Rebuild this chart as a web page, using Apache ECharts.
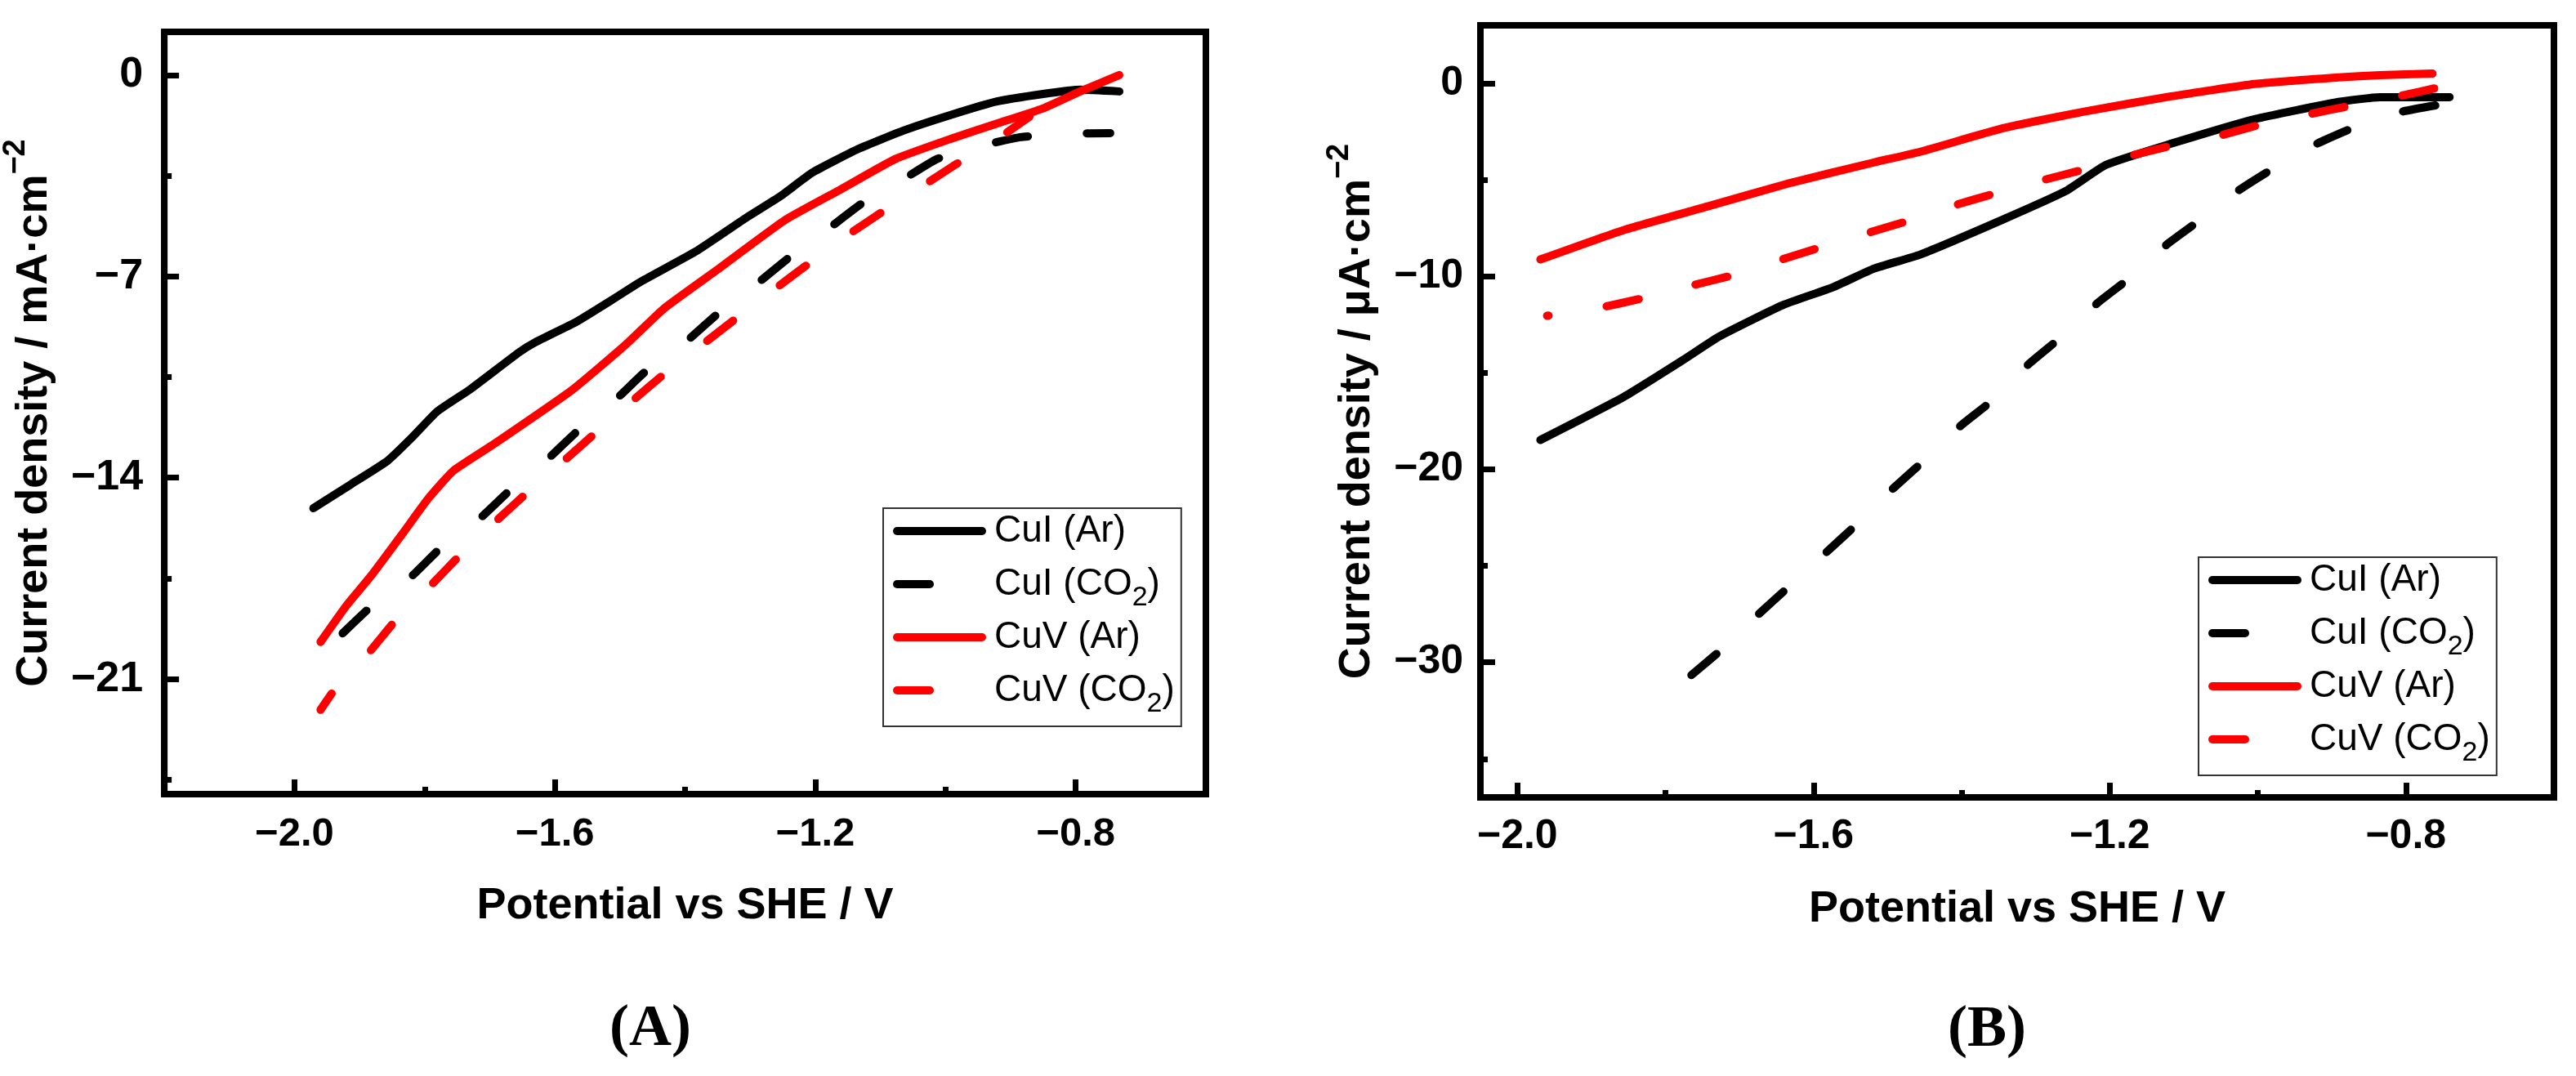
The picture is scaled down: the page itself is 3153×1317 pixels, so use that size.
<!DOCTYPE html>
<html>
<head>
<meta charset="utf-8">
<script src="https://cdn.jsdelivr.net/npm/echarts@6/dist/echarts.min.js"></script>
<style>
  html, body { margin: 0; padding: 0; background: #fff; }
  #chart { width: 3153px; height: 1317px; }
</style>
</head>
<body>
<div id="chart"></div>
<script>
// panel A : current density in mA/cm2
const potA_CuI_Ar = [-1.971, -1.914, -1.857, -1.819, -1.781, -1.731, -1.655, -1.630, -1.567, -1.516, -1.467, -1.382, -1.304, -1.254, -1.205, -1.134, -1.063, -0.992, -0.921, -0.850, -0.793, -0.733];
const curA_CuI_Ar = [-15.06, -14.24, -13.41, -12.59, -11.70, -10.94, -9.64, -9.29, -8.58, -7.87, -7.17, -6.11, -4.93, -4.22, -3.40, -2.57, -1.92, -1.39, -0.92, -0.66, -0.51, -0.57];

const potA_CuI_CO2 = [-1.926, -1.882, -1.819, -1.775, -1.713, -1.668, -1.611, -1.564, -1.507, -1.460, -1.398, -1.349, -1.291, -1.240, -1.183, -1.130, -1.068, -1.013, -0.943, -0.885, -0.809, -0.747];
const curA_CuI_CO2 = [-19.41, -18.47, -17.40, -16.43, -15.37, -14.41, -13.35, -12.35, -11.29, -10.29, -9.26, -8.28, -7.28, -6.34, -5.40, -4.49, -3.67, -2.92, -2.45, -2.16, -2.04, -2.02];

const potA_CuV_Ar = [-1.960, -1.920, -1.882, -1.832, -1.794, -1.756, -1.693, -1.573, -1.490, -1.432, -1.353, -1.247, -1.162, -1.077, -0.992, -0.921, -0.850, -0.793, -0.733];
const curA_CuV_Ar = [-19.71, -18.44, -17.40, -15.88, -14.71, -13.76, -12.82, -10.94, -9.35, -8.11, -6.81, -5.05, -3.99, -2.92, -2.22, -1.69, -1.16, -0.57, 0.0];

const potA_CuV_CO2 = [-1.960, -1.936, -1.885, -1.842, -1.790, -1.743, -1.690, -1.643, -1.589, -1.539, -1.482, -1.433, -1.375, -1.325, -1.267, -1.215, -1.155, -1.102, -1.040, -0.988, -0.924, -0.871];
const curA_CuV_CO2 = [-22.07, -21.29, -20.06, -18.89, -17.73, -16.63, -15.50, -14.53, -13.47, -12.47, -11.35, -10.41, -9.40, -8.52, -7.52, -6.64, -5.64, -4.83, -3.93, -3.16, -2.28, -1.45];

// panel B : current density in uA/cm2
const potB_CuI_Ar = [-1.969, -1.856, -1.776, -1.727, -1.642, -1.574, -1.518, -1.456, -1.344, -1.259, -1.205, -1.117, -1.004, -0.891, -0.835, -0.741];
const curB_CuI_Ar = [-18.48, -16.24, -14.33, -13.11, -11.50, -10.57, -9.60, -8.88, -7.06, -5.58, -4.23, -3.13, -1.86, -0.97, -0.72, -0.72];

const potB_CuI_CO2 = [-1.765, -1.723, -1.676, -1.631, -1.583, -1.540, -1.493, -1.449, -1.400, -1.356, -1.308, -1.264, -1.216, -1.170, -1.122, -1.077, -1.024, -0.977, -0.920, -0.867, -0.806, -0.747];
const curB_CuI_CO2 = [-30.66, -29.30, -27.57, -26.00, -24.31, -22.79, -21.01, -19.49, -17.70, -16.36, -14.50, -13.10, -11.37, -10.00, -8.33, -7.06, -5.50, -4.36, -3.13, -2.24, -1.48, -1.06];

const potB_CuV_Ar = [-1.969, -1.856, -1.743, -1.631, -1.518, -1.456, -1.344, -1.230, -1.117, -1.004, -0.891, -0.835, -0.764];
const curB_CuV_Ar = [-9.13, -7.60, -6.38, -5.16, -4.10, -3.55, -2.33, -1.44, -0.68, -0.04, 0.30, 0.42, 0.50];

const potB_CuV_CO2 = [-1.960, -1.889, -1.833, -1.766, -1.712, -1.647, -1.594, -1.529, -1.474, -1.411, -1.355, -1.291, -1.236, -1.172, -1.114, -1.050, -0.993, -0.930, -0.871, -0.810, -0.750];
const curB_CuV_CO2 = [-12.05, -11.63, -11.16, -10.49, -9.98, -9.18, -8.54, -7.78, -7.15, -6.34, -5.71, -5.03, -4.48, -3.76, -3.21, -2.70, -2.11, -1.60, -1.14, -0.68, -0.17];

// ticks
const xTicks = [-2.0, -1.6, -1.2, -0.8];
const xMinor = [-1.8, -1.4, -1.0];
const yTicksA = [0, -7, -14, -21];
const yMinorA = [-3.5, -10.5, -17.5, -24.5];
const yTicksB = [0, -10, -20, -30];
const yMinorB = [-5, -15, -25, -35];

const seriesNames = ['CuI (Ar)', 'CuI (CO2)', 'CuV (Ar)', 'CuV (CO2)'];

const SANS = 'Liberation Sans';
const zip = (xs, ys) => xs.map((x, i) => [x, ys[i]]);
const minus = s => String(s).replace('-', '\u2212');
const DASH = [40, 72];

function majorX(grid, min, fs, margin) {
    return {
        gridIndex: grid, type: 'value', min: min, max: -0.6, position: 'bottom',
        axisLine: { onZero: false, lineStyle: { color: '#000', width: 8 } },
        axisTick: { inside: true, length: 18, customValues: xTicks, lineStyle: { color: '#000', width: 7 } },
        axisLabel: {
            customValues: xTicks, margin: margin, color: '#000',
            fontSize: fs, fontWeight: 'bold', fontFamily: SANS,
            formatter: v => minus(v.toFixed(1))
        },
        splitLine: { show: false },
        name: 'Potential vs SHE / V', nameLocation: 'middle', nameGap: 110,
        nameTextStyle: { fontSize: 54, fontWeight: 'bold', fontFamily: SANS, color: '#000' }
    };
}

function minorX(grid, min) {
    return {
        gridIndex: grid, type: 'value', min: min, max: -0.6, position: 'bottom', offset: 0,
        axisLine: { show: false, onZero: false },
        axisTick: { inside: true, length: 9, customValues: xMinor, lineStyle: { color: '#000', width: 7 } },
        axisLabel: { show: false },
        splitLine: { show: false }
    };
}

function majorY(grid, min, max, ticks, fs, margin, unit) {
    return {
        gridIndex: grid, type: 'value', min: min, max: max, position: 'left',
        axisLine: { onZero: false, lineStyle: { color: '#000', width: 8 } },
        axisTick: { inside: true, length: 18, customValues: ticks, lineStyle: { color: '#000', width: 7 } },
        axisLabel: {
            customValues: ticks, margin: margin, color: '#000',
            fontSize: fs, fontWeight: 'bold', fontFamily: SANS,
            formatter: v => minus(v)
        },
        splitLine: { show: false },
        name: '{m|Current density / ' + unit + '\u00b7cm}{sup|\u22122}',
        nameLocation: 'middle', nameGap: 92,
        nameTextStyle: {
            rich: {
                m: { fontSize: 54, fontWeight: 'bold', fontFamily: SANS, color: '#000', lineHeight: 54, verticalAlign: 'middle' },
                sup: { fontSize: 38, fontWeight: 'bold', fontFamily: SANS, color: '#000', lineHeight: 38, verticalAlign: 'middle', padding: [0, 0, 44, 0] }
            }
        }
    };
}

function minorY(grid, min, max, ticks) {
    return {
        gridIndex: grid, type: 'value', min: min, max: max, position: 'left', offset: 0,
        axisLine: { show: false, onZero: false },
        axisTick: { inside: true, length: 9, customValues: ticks, lineStyle: { color: '#000', width: 7 } },
        axisLabel: { show: false },
        splitLine: { show: false }
    };
}

function line(name, xi, yi, pots, curs, color, dashed, offset) {
    return {
        name: name, type: 'line', xAxisIndex: xi, yAxisIndex: yi,
        data: zip(pots, curs),
        symbol: 'none', showSymbol: false, smooth: 0.15,
        lineStyle: {
            color: color, width: 10, cap: 'round', join: 'round',
            type: dashed ? DASH : 'solid', dashOffset: offset || 0
        },
        itemStyle: { color: color },
        z: 3
    };
}

function legend(left, top) {
    return {
        orient: 'vertical', left: left, top: top,
        data: seriesNames, selectedMode: false,
        itemWidth: 104, itemHeight: 52, itemGap: 8,
        padding: [5, 8, 10, 12],
        borderColor: '#333', borderWidth: 2, backgroundColor: '#fff',
        itemStyle: { opacity: 0, borderWidth: 0 },
        lineStyle: { width: 10, cap: 'round', dashOffset: 0 },
        formatter: n => n.indexOf('CO2') >= 0
            ? '{m|' + n.replace('CO2)', 'CO') + '}{sub|2}{m|)}'
            : '{m|' + n + '}',
        textStyle: {
            padding: [0, 0, 0, 10],
            rich: {
                m: { fontSize: 46, fontFamily: SANS, color: '#000', lineHeight: 52, verticalAlign: 'middle' },
                sub: { fontSize: 34, fontFamily: SANS, color: '#000', lineHeight: 34, verticalAlign: 'middle', padding: [34, 0, 0, 0] }
            }
        }
    };
}

const chart = echarts.init(document.getElementById('chart'));

chart.setOption({
    animation: false,
    backgroundColor: '#fff',
    grid: [
        { left: 182, right: 1677, top: 39, bottom: 345, show: true, borderColor: '#000', borderWidth: 8 },
        { left: 1812, right: 27, top: 31, bottom: 341, show: true, borderColor: '#000', borderWidth: 8 }
    ],
    xAxis: [
        majorX(0, -2.2, 49, 25),
        minorX(0, -2.2),
        majorX(1, -2.05, 50, 23),
        minorX(1, -2.05)
    ],
    yAxis: [
        majorY(0, -25, 1.5, yTicksA, 52, 26, 'mA'),
        minorY(0, -25, 1.5, yMinorA),
        majorY(1, -37, 3, yTicksB, 50, 21, '\u03bcA'),
        minorY(1, -37, 3, yMinorB)
    ],
    legend: [legend(1081, 622), legend(2691, 682)],
    series: [
        line('CuI (Ar)', 0, 0, potA_CuI_Ar, curA_CuI_Ar, '#000', false),
        line('CuI (CO2)', 0, 0, potA_CuI_CO2, curA_CuI_CO2, '#000', true),
        line('CuV (Ar)', 0, 0, potA_CuV_Ar, curA_CuV_Ar, '#ff0000', false),
        line('CuV (CO2)', 0, 0, potA_CuV_CO2, curA_CuV_CO2, '#ff0000', true, 16),
        line('CuI (Ar)', 2, 2, potB_CuI_Ar, curB_CuI_Ar, '#000', false),
        line('CuI (CO2)', 2, 2, potB_CuI_CO2, curB_CuI_CO2, '#000', true),
        line('CuV (Ar)', 2, 2, potB_CuV_Ar, curB_CuV_Ar, '#ff0000', false),
        line('CuV (CO2)', 2, 2, potB_CuV_CO2, curB_CuV_CO2, '#ff0000', true, 38)
    ],
    graphic: [
        { type: 'text', x: 796, y: 1260, style: { text: '(A)', fontSize: 72, fontWeight: 'bold', fontFamily: 'Liberation Serif', fill: '#000', align: 'center', verticalAlign: 'middle' } },
        { type: 'text', x: 2432, y: 1261, style: { text: '(B)', fontSize: 72, fontWeight: 'bold', fontFamily: 'Liberation Serif', fill: '#000', align: 'center', verticalAlign: 'middle' } }
    ]
});
</script>
</body>
</html>
